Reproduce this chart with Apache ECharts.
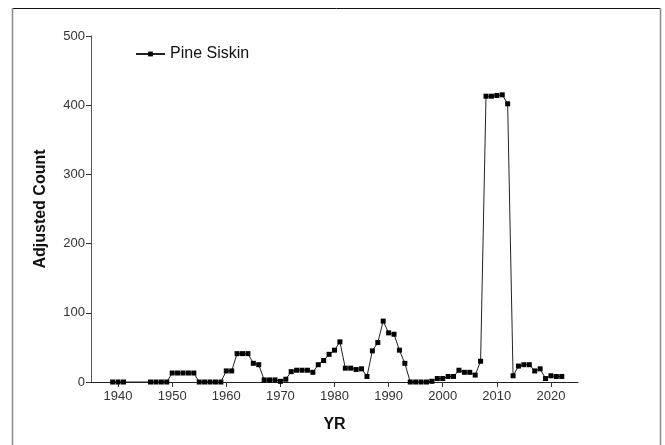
<!DOCTYPE html>
<html>
<head>
<meta charset="utf-8">
<script src="https://cdn.jsdelivr.net/npm/echarts@6/dist/echarts.min.js"></script>
<style>
html,body{margin:0;padding:0;background:#fff;}
#chart{width:665px;height:445px;}
</style>
</head>
<body>
<div id="chart"></div>
<script>
var seriesName = 'Pine Siskin';
var years = [1939,1940,1941,
  1946,1947,1948,1949,1950,1951,1952,1953,1954,1955,1956,1957,1958,1959,
  1960,1961,1962,1963,1964,1965,1966,1967,1968,1969,1970,1971,1972,1973,1974,1975,1976,1977,1978,1979,
  1980,1981,1982,1983,1984,1985,1986,1987,1988,1989,1990,1991,1992,1993,1994,1995,1996,1997,1998,1999,
  2000,2001,2002,2003,2004,2005,2006,2007,2008,2009,2010,2011,2012,2013,2014,2015,2016,2017,2018,2019,
  2020,2021,2022];
var counts = [0,0,0,
  0,0,0,0,13,13,13,13,13,0,0,0,0,0,
  16,16,41,41,41,27,25,3,3,3,1,4,15,17,17,17,14,25,31,40,
  46,58,20,20,18,19,8,45,57,88,71,69,46,27,0,0,0,0,1,5,
  5,8,8,17,14,14,10,30,413,413,414,415,402,9,23,25,25,16,19,5,
  9,8,8];
var xTicks = [1940,1950,1960,1970,1980,1990,2000,2010,2020];
var yMin = 0, yMax = 500, yStep = 100;
var xMin = 1935, xMax = 2025;

var data = years.map(function(y,i){ return [y, counts[i]]; });

var chart = echarts.init(document.getElementById('chart'), null, {renderer:'canvas'});
chart.setOption({
  animation:false,
  backgroundColor:'#fff',
  textStyle:{fontFamily:'Liberation Sans, Arial, sans-serif'},
  grid:{left:91, right:87, top:36, bottom:63, containLabel:false},
  legend:{
    left:135, top:46, padding:0, itemWidth:29, itemHeight:6, itemGap:5,
    textStyle:{fontSize:16, color:'#111', fontFamily:'Liberation Sans, Arial, sans-serif'},
    data:[{name:seriesName}]
  },
  xAxis:{
    type:'value', min:xMin, max:xMax,
    name:'YR', nameLocation:'middle', nameGap:35,
    nameTextStyle:{fontSize:16, fontWeight:'bold', color:'#111'},
    axisLine:{show:true, lineStyle:{color:'#222', width:1}},
    axisTick:{show:true, length:5, customValues:xTicks, lineStyle:{color:'#333'}},
    axisLabel:{customValues:xTicks, fontSize:13, color:'#333', margin:8,
      formatter:function(v){ return String(v); }},
    splitLine:{show:false}
  },
  yAxis:{
    type:'value', min:yMin, max:yMax, interval:yStep,
    name:'Adjusted Count', nameLocation:'middle', nameGap:42,
    nameTextStyle:{fontSize:16, fontWeight:'bold', color:'#111'},
    axisLine:{show:true, lineStyle:{color:'#555', width:1}},
    axisTick:{show:true, length:5, lineStyle:{color:'#333'}},
    axisLabel:{fontSize:13, color:'#333', margin:6},
    splitLine:{show:false}
  },
  graphic:[
    {type:'line', shape:{x1:12, y1:8.5, x2:661, y2:8.5}, style:{stroke:'#111', lineWidth:1}},
    {type:'line', shape:{x1:12.5, y1:8, x2:12.5, y2:445}, style:{stroke:'#888', lineWidth:1.5}},
    {type:'line', shape:{x1:660.5, y1:8, x2:660.5, y2:445}, style:{stroke:'#888', lineWidth:1.5}}
  ],
  series:[{
    name:seriesName, type:'line', data:data,
    symbol:'rect', symbolSize:5,
    itemStyle:{color:'#000'},
    lineStyle:{color:'#222', width:1}
  }]
});
</script>
</body>
</html>
